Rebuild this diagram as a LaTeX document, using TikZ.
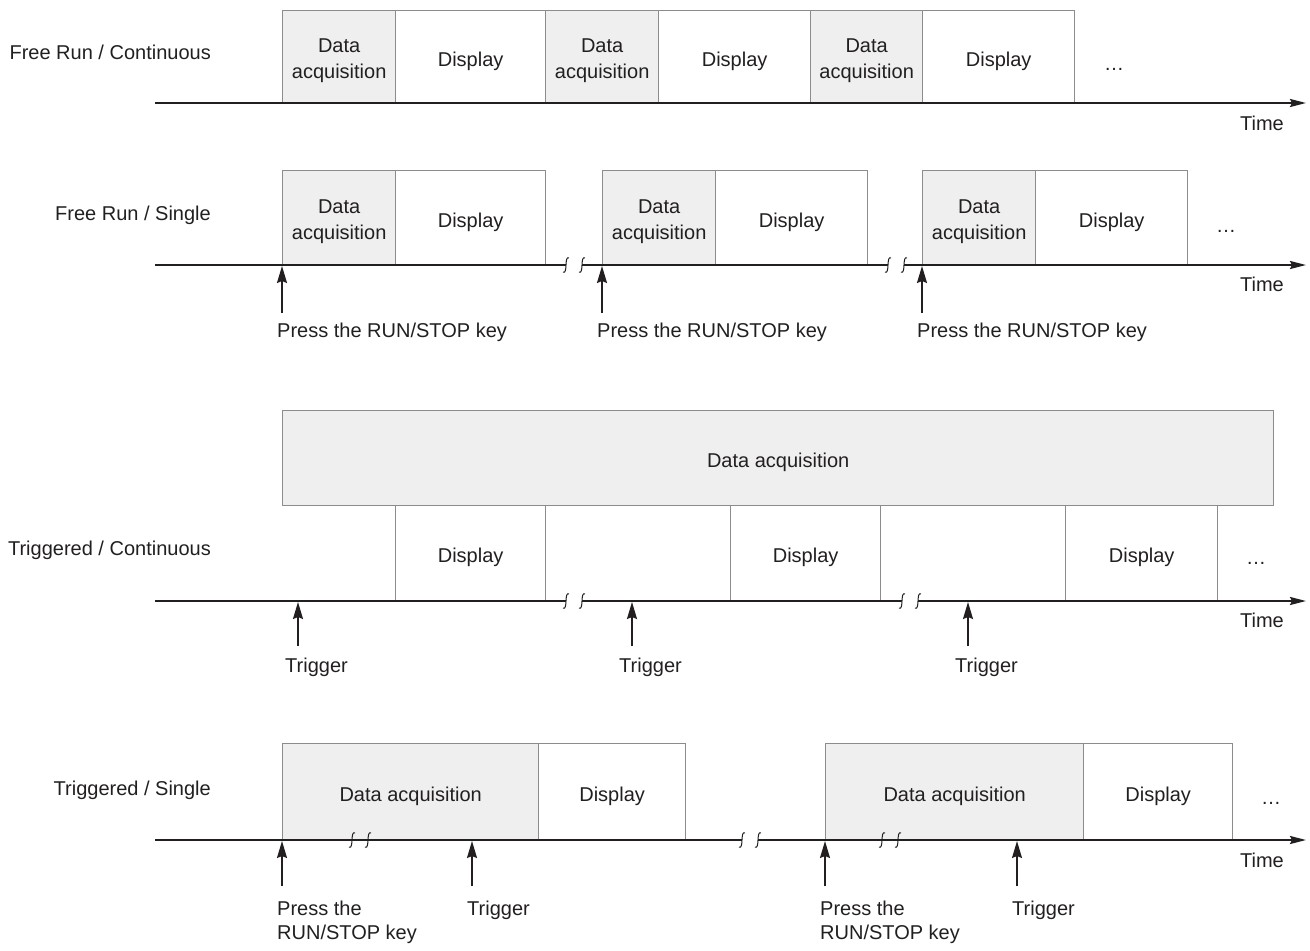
\documentclass[tikz,border=0pt]{standalone}
\usepackage{fontspec}
\setmainfont{Liberation Sans}
\usetikzlibrary{arrows.meta}
\definecolor{ink}{HTML}{231F20}
\definecolor{boxline}{HTML}{8C8C8C}
\definecolor{dafill}{HTML}{EFEFEF}
\tikzset{
  txt/.style={font=\fontsize{20}{26}\selectfont, text=ink},
  seg/.style={draw=boxline, line width=1.3pt, inner sep=0pt, anchor=north west},
  dabox/.style={seg, fill=dafill},
  dispbox/.style={seg, fill=white},
  boxtext/.style={txt, align=center, inner sep=0pt, yshift=-4pt},
  axisline/.style={draw=ink, line width=2pt},
  axisarrow/.style={axisline, -{Stealth[length=16pt,width=8pt,inset=2pt]}},
  uparrow/.style={draw=ink, line width=1.5pt, -{Stealth[length=17pt,width=10pt,inset=2pt]}},
  lbl/.style={txt, inner sep=0pt},
  brk/.pic={\draw[ink, line width=1pt] (3,-7) .. controls (-2,-10) and (2,10) .. (-3,7);}
}
\newcommand\segbox[7]{\node[#1, minimum width={#4-#2}, minimum height={#5-#3}] (#6) at (#2,#3) {};
  \node[boxtext] (#6t) at (#6.center) {#7};}
\begin{document}
\begin{tikzpicture}[x=1pt,y=-1pt]
\useasboundingbox (0,0) rectangle (1310,951);
% ---------- Row 1: Free Run / Continuous
\node[lbl, anchor=base east] (r1) at (211,59) {Free Run / Continuous};
\segbox{dabox}{282}{10}{395}{103}{a11}{Data\\acquisition}
\segbox{dispbox}{395}{10}{545}{103}{d11}{Display}
\segbox{dabox}{545}{10}{658}{103}{a12}{Data\\acquisition}
\segbox{dispbox}{658}{10}{810}{103}{d12}{Display}
\segbox{dabox}{810}{10}{922}{103}{a13}{Data\\acquisition}
\segbox{dispbox}{922}{10}{1074}{103}{d13}{Display}
\node[lbl, anchor=base] (e1) at (1114,70) {…};
\coordinate (x1s) at (155,103);
\coordinate (x1e) at (1306,103);
\draw[axisarrow] (x1s) -- (x1e);
\node[lbl, anchor=base east] (t1) at (1284,130) {Time};
% ---------- Row 2: Free Run / Single
\node[lbl, anchor=base east] (r2) at (211,220) {Free Run / Single};
\segbox{dabox}{282}{170}{395}{265}{a21}{Data\\acquisition}
\segbox{dispbox}{395}{170}{545}{265}{d21}{Display}
\segbox{dabox}{602}{170}{715}{265}{a22}{Data\\acquisition}
\segbox{dispbox}{715}{170}{867}{265}{d22}{Display}
\segbox{dabox}{922}{170}{1035}{265}{a23}{Data\\acquisition}
\segbox{dispbox}{1035}{170}{1187}{265}{d23}{Display}
\node[lbl, anchor=base] (e2) at (1226,232) {…};
\coordinate (x2s) at (155,265);
\coordinate (b21) at (566,265);
\coordinate (b22) at (582,265);
\coordinate (b23) at (888,265);
\coordinate (b24) at (904,265);
\coordinate (x2e) at (1306,265);
\draw[axisline] (x2s) -- (b21);
\draw[axisline] (b22) -- (b23);
\draw[axisarrow] (b24) -- (x2e);
\foreach \b in {b21,b22,b23,b24} \pic at (\b) {brk};
\node[lbl, anchor=base east] (t2) at (1284,291) {Time};
\foreach \i/\x in {1/282,2/602,3/922}{
  \coordinate (p2\i) at (\x,313);
  \coordinate (q2\i) at (\x,266);
  \draw[uparrow] (p2\i) -- (q2\i);
  \node[lbl, anchor=base west] (k2\i) at (\x-5,337) {Press the RUN/STOP key};
}
% ---------- Row 3: Triggered / Continuous
\node[lbl, anchor=base east] (r3) at (211,555) {Triggered / Continuous};
\segbox{dabox}{282}{410}{1273}{505}{a31}{Data acquisition}
\segbox{dispbox}{395}{505}{545}{601}{d31}{Display}
\segbox{dispbox}{730}{505}{880}{601}{d32}{Display}
\segbox{dispbox}{1065}{505}{1217}{601}{d33}{Display}
\node[lbl, anchor=base] (e3) at (1256,564) {…};
\coordinate (x3s) at (155,601);
\coordinate (b31) at (566,601);
\coordinate (b32) at (582,601);
\coordinate (b33) at (902,601);
\coordinate (b34) at (918,601);
\coordinate (x3e) at (1306,601);
\draw[axisline] (x3s) -- (b31);
\draw[axisline] (b32) -- (b33);
\draw[axisarrow] (b34) -- (x3e);
\foreach \b in {b31,b32,b33,b34} \pic at (\b) {brk};
\node[lbl, anchor=base east] (t3) at (1284,627) {Time};
\foreach \i/\x in {1/298,2/632,3/968}{
  \coordinate (p3\i) at (\x,646);
  \coordinate (q3\i) at (\x,602);
  \draw[uparrow] (p3\i) -- (q3\i);
  \node[lbl, anchor=base west] (k3\i) at (\x-13,672) {Trigger};
}
% ---------- Row 4: Triggered / Single
\node[lbl, anchor=base east] (r4) at (211,795) {Triggered / Single};
\segbox{dabox}{282}{743}{538}{840}{a41}{Data acquisition}
\segbox{dispbox}{538}{743}{685}{840}{d41}{Display}
\segbox{dabox}{825}{743}{1083}{840}{a42}{Data acquisition}
\segbox{dispbox}{1083}{743}{1232}{840}{d42}{Display}
\node[lbl, anchor=base] (e4) at (1271,804) {…};
\coordinate (x4s) at (155,840);
\coordinate (b41) at (742,840);
\coordinate (b42) at (758,840);
\coordinate (x4e) at (1306,840);
\draw[axisline] (x4s) -- (b41);
\draw[axisarrow] (b42) -- (x4e);
\coordinate (c41) at (352,840);
\coordinate (c42) at (368,840);
\coordinate (c43) at (882,840);
\coordinate (c44) at (898,840);
\foreach \b in {b41,b42,c41,c42,c43,c44} \pic at (\b) {brk};
\node[lbl, anchor=base east] (t4) at (1284,867) {Time};
\foreach \i/\x in {1/282,3/825}{
  \coordinate (p4\i) at (\x,886);
  \coordinate (q4\i) at (\x,841);
  \draw[uparrow] (p4\i) -- (q4\i);
  \node[lbl, anchor=north west, align=left, font=\fontsize{20}{24}\selectfont] (k4\i) at (\x-5,901) {Press the\\RUN/STOP key};
}
\foreach \i/\x in {2/472,4/1017}{
  \coordinate (p4\i) at (\x,886);
  \coordinate (q4\i) at (\x,841);
  \draw[uparrow] (p4\i) -- (q4\i);
  \node[lbl, anchor=base west] (k4\i) at (\x-5,915) {Trigger};
}
\end{tikzpicture}
\end{document}
